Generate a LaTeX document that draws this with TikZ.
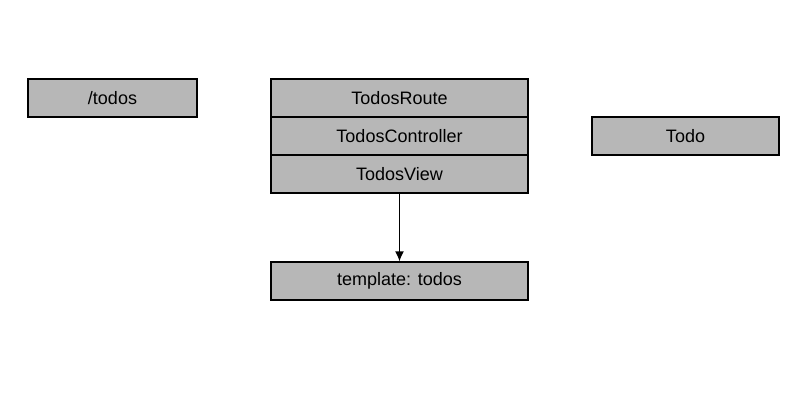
\documentclass[tikz,border=0pt]{standalone}
\usepackage{fontspec}
\setmainfont{Liberation Sans}
\usepackage{tikz}
\usetikzlibrary{positioning, arrows.meta}
\definecolor{boxFill}{HTML}{B7B7B7}

\tikzset{
    box/.style={draw=black, fill=boxFill, line width=1.2pt, minimum height=38pt,
        inner sep=0pt, font=\fontsize{18}{21}\selectfont},
    flow/.style={-{Latex[length=10pt, width=9pt]}, line width=1.5pt}
}

\begin{document}
\begin{tikzpicture}[x=1pt, y=-1pt]
    \useasboundingbox (0, 0) rectangle (800, 400);

    \node[box, minimum width=169pt] (url) at (112.5, 98) {/todos};

    \node[box, minimum width=257pt] (route) at (399.5, 98) {TodosRoute};
    \node[box, minimum width=257pt, below=-1.2pt of route] (controller) {TodosController};
    \node[box, minimum width=257pt, below=-1.2pt of controller] (view) {TodosView};

    \node[box, minimum width=187pt] (model) at (685.5, 136) {Todo};

    \node[box, minimum width=257pt] (template) at (399.5, 281) {template: todos};

    \draw[flow] (view) -- (template);
\end{tikzpicture}
\end{document}
